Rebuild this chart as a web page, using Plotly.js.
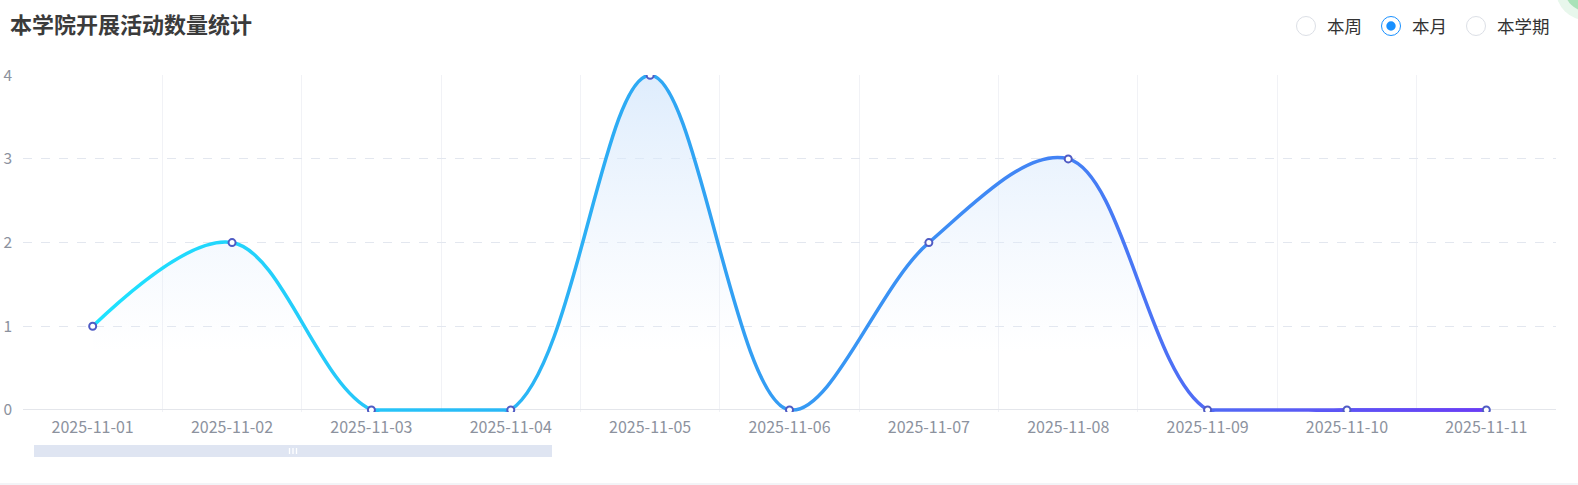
<!DOCTYPE html>
<html>
<head>
<meta charset="utf-8">
<script src="https://cdn.plot.ly/plotly-3.0.1.min.js"></script>
<style>
html, body { margin: 0; padding: 0; background: #ffffff; overflow: hidden; width: 1578px; height: 485px; }
#chart { width: 1578px; height: 485px; overflow: hidden; position: relative; }
</style>
</head>
<body>
<div id="chart"></div>
<script>
// data
const dates = ['2025-11-01', '2025-11-02', '2025-11-03', '2025-11-04', '2025-11-05', '2025-11-06',
               '2025-11-07', '2025-11-08', '2025-11-09', '2025-11-10', '2025-11-11'];
const counts = [1, 2, 0, 0, 4, 0, 2, 3, 0, 0, 0];
const yTicks = [0, 1, 2, 3, 4];
const periods = ['本周', '本月', '本学期'];
const selectedPeriod = '本月';

// flat stretches (two zero days in a row) get a straight segment so the
// spline's undershoot below the axis stays hidden
const flatCounts = counts.map(function (v, i) {
    var prevZero = i > 0 && counts[i - 1] === 0;
    var nextZero = i < counts.length - 1 && counts[i + 1] === 0;
    return v === 0 && (prevZero || nextZero) ? v : null;
});

const chart = document.getElementById('chart');
const W = 1578, H = 485;
const M = { l: 23, r: 22, t: 75, b: 73 };
const plotW = W - M.l - M.r, plotH = H - M.t - M.b;
// pixel -> paper helpers for the decorations
const px = x => (x - M.l) / plotW;
const py = y => 1 - (y - M.t) / plotH;

const fontStack = '"Noto Sans CJK SC", "Noto Sans", sans-serif';

var shapes = [];
var annotations = [];

// radio buttons top right
const radioX = [1306, 1391, 1476];
periods.forEach(function (p, i) {
    var on = p === selectedPeriod;
    shapes.push({
        type: 'circle', xref: 'paper', yref: 'paper',
        xsizemode: 'pixel', ysizemode: 'pixel',
        xanchor: px(radioX[i]), yanchor: py(26),
        x0: -9.5, x1: 9.5, y0: -9.5, y1: 9.5,
        fillcolor: '#ffffff',
        line: { color: on ? '#1890ff' : '#dcdfe6', width: 1 }
    });
    if (on) {
        shapes.push({
            type: 'circle', xref: 'paper', yref: 'paper',
            xsizemode: 'pixel', ysizemode: 'pixel',
            xanchor: px(radioX[i]), yanchor: py(26),
            x0: -4.7, x1: 4.7, y0: -4.7, y1: 4.7,
            fillcolor: '#1890ff', line: { width: 0 }
        });
    }
    annotations.push({
        xref: 'paper', yref: 'paper', x: px(radioX[i] + 19), y: py(26),
        xanchor: 'left', yanchor: 'middle', showarrow: false,
        text: p, font: { family: fontStack, size: 17.5, color: '#333333' }
    });
});

// slider bar under the axis
shapes.push({
    type: 'rect', xref: 'paper', yref: 'paper', layer: 'below',
    x0: px(34), x1: px(552), y0: py(457), y1: py(445),
    fillcolor: '#dfe5f2', line: { width: 0 }
});
[289.5, 293, 296.5].forEach(function (hx) {
    shapes.push({
        type: 'line', xref: 'paper', yref: 'paper',
        x0: px(hx), x1: px(hx), y0: py(448), y1: py(454),
        line: { color: '#ffffff', width: 1.3 }
    });
});

// page separator at the very bottom
shapes.push({
    type: 'rect', xref: 'paper', yref: 'paper', layer: 'below',
    x0: px(0), x1: px(W), y0: py(H), y1: py(483),
    fillcolor: '#f3f4f7', line: { width: 0 }
});

// green floating widget peeking in at the corner
shapes.push({
    type: 'circle', xref: 'paper', yref: 'paper',
    xsizemode: 'pixel', ysizemode: 'pixel',
    xanchor: px(1586), yanchor: py(-10),
    x0: -30, x1: 30, y0: -30, y1: 30,
    fillcolor: '#e8f7ec', line: { width: 0 }
});
shapes.push({
    type: 'circle', xref: 'paper', yref: 'paper',
    xsizemode: 'pixel', ysizemode: 'pixel',
    xanchor: px(1586), yanchor: py(-10),
    x0: -21, x1: 21, y0: -21, y1: 21,
    fillcolor: '#a9e2b8', line: { width: 0 }
});

var data = [{
    x: dates,
    y: flatCounts,
    type: 'scatter',
    mode: 'lines',
    connectgaps: false,
    line: { shape: 'linear', width: 3.5, color: '#5a55f3' },
    hoverinfo: 'skip'
}, {
    x: dates,
    y: counts,
    type: 'scatter',
    mode: 'lines+markers',
    line: { shape: 'spline', smoothing: 1, width: 3.5, color: '#2fa6f4' },
    marker: { size: 7, color: '#ffffff', line: { color: '#4f5bc4', width: 2 } },
    fill: 'tozeroy',
    fillgradient: {
        type: 'vertical',
        start: 0.7,
        stop: 4,
        colorscale: [[0, 'rgba(226,238,253,0)'], [1, 'rgba(214,232,252,0.8)']]
    },
    hoverinfo: 'skip'
}];

var layout = {
    width: W,
    height: H,
    margin: M,
    paper_bgcolor: '#ffffff',
    plot_bgcolor: '#ffffff',
    showlegend: false,
    font: { family: fontStack },
    title: {
        text: '<b>本学院开展活动数量统计</b>',
        xref: 'container', yref: 'container',
        x: 10 / W, y: 1 - 25 / H,
        xanchor: 'left', yanchor: 'middle',
        font: { family: fontStack, size: 22, color: '#3b3b3b' }
    },
    xaxis: {
        type: 'category',
        range: [-0.5, dates.length - 0.5],
        tickson: 'boundaries',
        ticks: '',
        showgrid: true,
        gridcolor: '#f1f2f6',
        showline: false,
        zeroline: false,
        tickfont: { family: fontStack, size: 16, color: '#8c929e' },
        ticklabelstandoff: 4
    },
    yaxis: {
        range: [-0.025, 4.003],
        tickvals: yTicks,
        ticks: '',
        showgrid: true,
        gridcolor: '#e3e7ef',
        griddash: 'dash',
        zeroline: true,
        zerolinecolor: '#e4e6eb',
        zerolinewidth: 1,
        showline: false,
        tickfont: { family: fontStack, size: 15.5, color: '#8c929e' },
        ticklabelstandoff: 10
    },
    shapes: shapes,
    annotations: annotations
};

Plotly.newPlot(chart, data, layout, { displayModeBar: false, staticPlot: true }).then(function () {
    // horizontal gradient stroke for the line, cyan -> purple, spanning first to last day
    var xa = chart._fullLayout.xaxis;
    var svg = chart.querySelector('.main-svg');
    var ns = 'http://www.w3.org/2000/svg';
    var defs = svg.querySelector('defs') || svg.insertBefore(document.createElementNS(ns, 'defs'), svg.firstChild);
    var grad = document.createElementNS(ns, 'linearGradient');
    grad.setAttribute('id', 'lineGrad');
    grad.setAttribute('gradientUnits', 'userSpaceOnUse');
    grad.setAttribute('x1', xa.l2p(0)); grad.setAttribute('y1', '0');
    grad.setAttribute('x2', xa.l2p(dates.length - 1)); grad.setAttribute('y2', '0');
    [['0', '#1ee3ff'], ['0.4', '#2ea8f3'], ['0.7', '#4381f5'], ['1', '#6a3cf5']].forEach(function (s) {
        var st = document.createElementNS(ns, 'stop');
        st.setAttribute('offset', s[0]);
        st.setAttribute('stop-color', s[1]);
        grad.appendChild(st);
    });
    defs.appendChild(grad);
    chart.querySelectorAll('.scatterlayer .js-line').forEach(function (p) {
        p.style.stroke = 'url(#lineGrad)';
    });
});
</script>
</body>
</html>
